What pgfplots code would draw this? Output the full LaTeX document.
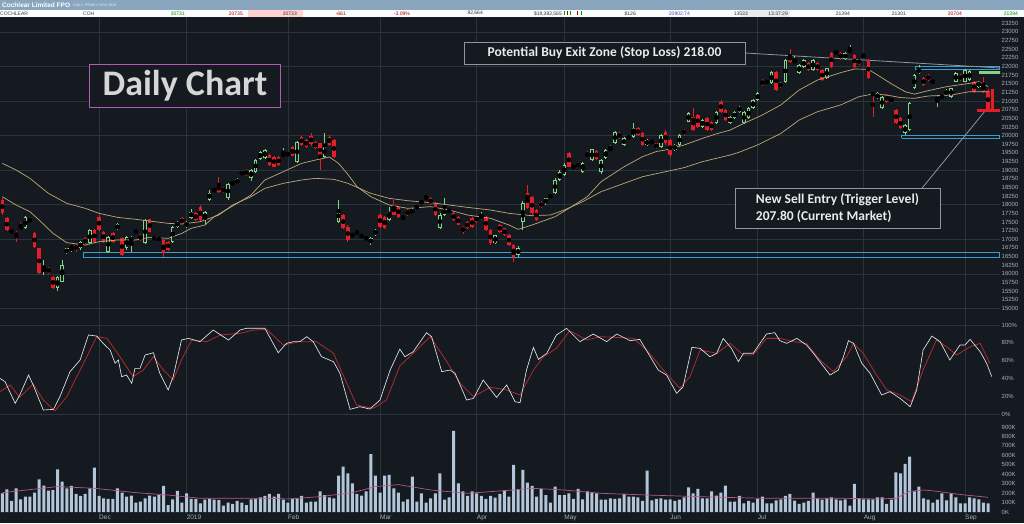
\documentclass[border=0pt]{standalone}
\usepackage{pgfplots}
\pgfplotsset{compat=1.18}
\usepackage{pgfplotstable}
\usepackage{fontspec}
\setmainfont{Liberation Sans}
\newfontfamily\calib{Carlito}
\definecolor{bg}{HTML}{141A1F}
\definecolor{gridc}{HTML}{2A343C}
\definecolor{cgreen}{HTML}{82D482}
\definecolor{cred}{HTML}{E41E26}
\definecolor{mac}{HTML}{BFA878}
\definecolor{stw}{HTML}{E2E8EC}
\definecolor{str}{HTML}{B02A2C}
\definecolor{volc}{HTML}{B3C5D8}
\definecolor{vma}{HTML}{B4568E}
\definecolor{boxblue}{HTML}{3A9ED6}
\definecolor{labc}{HTML}{A7B0B8}
\definecolor{hdr}{HTML}{8AA6BE}
\definecolor{boxgray}{HTML}{8E979E}
\definecolor{dcpurple}{HTML}{B25AB4}

\pgfplotstableread{
i o h l c
5 17316 17660 17290 17635
9 16100 16400 15966 16130
12 15580 15930 15500 15917
13 15773 16400 15750 16255
14 16593 16760 16570 16737
15 16737 16805 16641 16770
17 16737 16960 16700 16930
19 16882 17290 16860 17268
23 16641 17100 16600 17075
25 17287 17460 17260 17432
27 16737 17100 16700 17075
28 16950 17100 16641 17040
31 16882 17580 16860 17557
37 16930 17390 16900 17364
38 17364 17530 17340 17509
40 17345 17530 17320 17509
41 17605 17866 17580 17798
44 17557 17820 17412 17798
45 18136 18420 18100 18348
46 18400 18480 18370 18440
49 18184 18640 18150 18600
50 18570 18700 18550 18666
51 18618 18760 18600 18734
52 18890 18960 18870 18940
54 18763 19040 18700 19004
55 18956 19320 18930 19293
56 19313 19560 19290 19535
57 19342 19610 19320 19583
61 19420 19640 19370 19450
62 19438 19520 19410 19486
64 19245 19850 19220 19824
70 19390 20065 19360 19679
73 17509 18136 17480 17846
77 17180 17260 17130 17219
80 16881 17060 16833 17026
81 17123 17300 17100 17267
84 17557 17942 17530 17798
87 17600 17680 17560 17653
89 17750 17900 17720 17866
90 17895 17990 17870 17972
91 18050 18120 18030 18090
92 18184 18260 18160 18232
95 17316 17750 17290 17702
96 17702 18184 17680 17895
104 17620 17800 17560 17660
107 16881 17130 16850 17123
112 16544 16800 16496 16737
113 17509 18100 17267 18058
118 18039 18200 18000 18184
119 18203 18310 18180 18280
120 18329 18760 18300 18715
121 18715 19000 18690 18956
122 18859 19200 18830 19149
126 18956 19240 18930 19216
128 19293 19620 19260 19600
130 18956 19330 18900 19293
131 19342 19620 19320 19583
132 19583 19730 19560 19631
133 19776 20140 19750 20113
135 19727 19960 19700 19920
136 19920 20000 19880 19969
137 19969 20350 19940 20210
140 19727 19900 19700 19872
141 19800 19880 19760 19830
143 19679 20050 19650 20017
146 19583 19760 19550 19727
147 19727 20040 19700 20017
149 20403 20680 20380 20644
152 20258 20480 20230 20451
155 20355 20720 20330 20692
158 20355 20580 20330 20548
159 20499 20720 20470 20692
160 20692 20870 20660 20837
161 20355 20720 20330 20692
162 20499 20820 20470 20789
163 20789 21060 20760 21030
164 21030 21250 21000 21223
167 21512 21880 21480 21850
169 21416 21540 21380 21512
170 21560 22220 21530 22187
172 22110 22290 22080 22187
173 21801 22070 21770 22042
174 21994 22210 21960 22187
176 21898 22210 21870 22187
179 21657 21970 21630 21946
181 22380 22480 22350 22430
183 22207 22420 22180 22400
184 22430 22620 22400 22480
187 22290 22360 22260 22330
190 21078 21250 21050 21223
191 20789 21150 20760 21126
193 20981 21100 20950 21078
196 20065 20330 20017 20306
197 20162 20960 20140 20933
198 21367 21780 21340 21753
199 21801 22042 21780 21946
202 21512 21630 21490 21608
203 21050 21175 20836 21078
205 21175 21340 21150 21319
206 21126 21390 21100 21367
207 21560 21830 21540 21801
209 21560 21920 21540 21898
210 21600 21900 21580 21870
212 21416 21580 21390 21560
}\greendata

\pgfplotstableread{
i o h l c
0 18136 18200 17700 17750
1 17606 17650 17230 17268
2 17268 17300 17150 17171
3 17220 17250 16930 17075
4 17384 17509 17268 17287
6 17577 17620 17480 17509
7 17171 17200 16760 16786
8 16737 16760 15990 16014
10 16159 16200 16000 16033
11 15917 15950 15560 15580
16 16834 16860 16641 16700
18 17027 17060 16850 16882
20 17268 17300 16900 16930
21 17654 17702 17240 17268
22 17220 17250 16900 16930
24 17171 17200 16900 16930
26 17027 17060 16520 16544
29 17268 17300 17150 17171
30 17123 17150 16950 16979
32 17577 17600 17200 17220
33 17075 17100 16950 16979
34 17030 17060 16960 16990
35 16979 17000 16496 16593
36 16930 16960 16660 16689
39 17605 17640 17430 17460
42 17750 17780 17530 17557
43 17923 17990 17530 17557
47 18570 18790 18350 18377
48 18473 18500 18350 18377
53 19004 19030 18830 18859
58 19438 19470 19120 19149
59 19390 19420 19080 19100
60 19390 19420 19120 19149
63 19660 19700 19400 19410
65 19969 20000 19700 19727
66 19872 19900 19650 19679
67 19990 20065 19700 19750
68 19824 19850 19600 19631
69 19776 19800 19004 19390
71 19969 20030 19700 19727
72 19872 19900 19350 19390
74 17702 17730 17300 17316
75 17364 17400 16930 16978
76 17150 17180 17060 17100
78 17123 17150 17030 17056
79 17074 17100 16950 16978
82 17702 17750 17340 17364
83 17653 17680 17290 17316
85 17990 18136 17700 17702
86 17942 17970 17620 17653
88 17846 17870 17680 17702
93 18184 18220 17990 18039
94 18039 18070 17680 17702
97 17846 17880 17770 17798
98 17750 17780 17530 17557
99 17653 17680 17400 17412
100 17364 17390 17150 17219
101 17509 17530 17290 17316
102 17605 17630 17340 17364
103 17653 17680 17480 17509
105 17653 17680 17250 17267
106 17267 17290 16830 16881
108 17412 17440 17190 17219
109 17316 17340 17100 17123
110 17123 17150 16800 16833
111 16833 16860 16350 16496
114 18329 18570 17880 17895
115 18232 18260 17700 17750
116 17846 17870 17530 17557
117 18088 18110 17900 17923
123 19486 19530 19080 19100
124 19149 19180 19020 19050
125 19197 19230 19080 19100
127 19486 19540 19370 19390
129 19560 19590 19300 19313
134 20084 20110 19900 19920
138 20210 20240 20000 20017
139 20065 20090 19700 19727
142 19776 19800 19600 19631
144 20113 20150 19740 19776
145 19872 19900 19380 19438
148 20161 20190 20000 20050
150 20548 20789 20130 20162
151 20596 20630 20230 20258
153 20499 20530 20130 20162
154 20403 20430 20130 20162
156 20981 21030 20660 20692
157 20740 20770 20420 20451
165 21608 21640 21430 21463
166 21608 21640 21480 21512
168 21850 21880 21290 21319
171 22332 22500 22100 22139
175 22091 22120 21870 21898
177 22091 22120 21870 21898
178 21898 21930 21580 21608
180 22400 22430 21960 21994
182 22380 22410 22200 22236
185 22332 22360 21960 21994
186 22200 22230 22050 22080
188 22187 22220 21630 21660
189 21223 21250 20548 21175
192 21175 21200 20950 20981
194 20740 20770 20330 20354
195 20499 20530 20180 20210
200 21657 21690 21440 21464
201 21753 21780 21580 21608
204 21175 21200 21050 21078
208 21753 21780 21580 21608
211 21560 21590 21240 21271
213 21464 21700 21240 21271
214 21300 21340 20740 20780
}\reddata

\pgfplotstableread[row sep=\\]{
v\\198\\240\\117\\251\\135\\163\\163\\205\\346\\279\\226\\233\\452\\322\\251\\276\\191\\170\\191\\251\\470\\170\\145\\138\\138\\251\\205\\163\\173\\99\\110\\145\\173\\163\\180\\276\\74\\135\\223\\99\\198\\138\\138\\92\\131\\142\\131\\127\\67\\99\\85\\117\\99\\74\\135\\138\\156\\170\\191\\163\\191\\131\\99\\138\\145\\170\\99\\110\\110\\219\\180\\156\\145\\385\\480\\410\\304\\191\\173\\219\\614\\385\\205\\385\\392\\251\\205\\
110\\135\\374\\110\\198\\99\\145\\198\\410\\131\\156\\858\\304\\219\\170\\219\\198\\170\\138\\170\\152\\191\\226\\163\\498\\233\\445\\311\\276\\163\\244\\180\\99\\269\\180\\180\\198\\138\\244\\135\\219\\205\\198\\131\\131\\145\\138\\145\\191\\163\\163\\156\\117\\438\\124\\138\\145\\131\\135\\117\\131\\156\\262\\198\\244\\145\\145\\219\\173\\205\\279\\110\\110\\170\\92\\117\\99\\138\\163\\92\\92\\
124\\135\\170\\191\\120\\85\\99\\117\\205\\145\\131\\145\\156\\135\\124\\135\\67\\297\\145\\135\\135\\135\\156\\156\\85\\131\\420\\410\\509\\586\\219\\269\\145\\131\\99\\131\\198\\124\\198\\156\\92\\92\\156\\145\\135\\99\\92\\
}\voldata

\pgfplotsset{
  panel/.style={scale only axis, width=1000pt, xmin=-0.5, xmax=216.6,
    axis line style={draw=none}, major tick length=0pt, tick style={draw=none},
    xtick={21,40,62,82,103,122,145,164,187,209},
    xmajorgrids, major grid style={draw=gridc, line width=0.6pt},
    ytick pos=right, yticklabel pos=right,
    yticklabel style={anchor=west, inner sep=0pt, xshift=1.5pt, font=\fontsize{6}{6}\selectfont, text=labc},
    /pgf/number format/assume math mode=true,
    /pgf/number format/fixed, /pgf/number format/1000 sep={},
    scaled y ticks=false},
  wick/.style={forget plot, only marks, mark=none, error bars/.cd, y dir=both, y explicit, error mark=none,
    error bar style={line width=0.7pt, draw=#1}},
  body/.style 2 args={forget plot, only marks, mark=none, error bars/.cd, y dir=both, y explicit, error mark=none,
    error bar style={line width=#2, draw=#1}},
}

\begin{document}
\begin{tikzpicture}
\useasboundingbox (0pt,0pt) rectangle (1024pt,523pt);
\fill[bg] (0pt,0pt) rectangle (1024pt,523pt);

% ---------- price panel ----------
\begin{axis}[panel, xticklabel=\empty, at={(0pt,205pt)}, anchor=south west, height=301pt,
  ymin=14721, ymax=23432,
  ytick={15000,15250,15500,15750,16000,16250,16500,16750,17000,17250,17500,17750,18000,18250,18500,18750,19000,19250,19500,19750,20000,20250,20500,20750,21000,21250,21500,21750,22000,22250,22500,22750,23000,23250},
  extra y ticks={15000,16000,17000,18000,19000,20000,21000,22000,23000},
  extra y tick labels={}, extra y tick style={grid=major}]
\addplot[boxblue, line width=1pt] coordinates {(17.7,16466) (216.4,16466) (216.4,16610) (17.7,16610) (17.7,16466)};
\addplot[boxblue, line width=1pt] coordinates {(198.2,21927) (216.4,21927) (216.4,21994) (198.2,21994) (198.2,21927)};
\addplot[boxblue, line width=1pt] coordinates {(195.3,19922) (216.4,19922) (216.4,19997) (195.3,19997) (195.3,19922)};
\addplot[boxgray, line width=0.8pt] coordinates {(161.3,22390) (216.6,21956)};
\addplot[boxgray, line width=0.8pt] coordinates {(199.7,18483) (213.4,20720)};
% wicks
\addplot[wick=cgreen] table[x=i, y expr={(\thisrow{h}+\thisrow{l})/2}, y error expr={(\thisrow{h}-\thisrow{l})/2}] {\greendata};
\addplot[wick=cred] table[x=i, y expr={(\thisrow{h}+\thisrow{l})/2}, y error expr={(\thisrow{h}-\thisrow{l})/2}] {\reddata};
% bodies
\addplot[body={cgreen}{3.5pt}] table[x=i, y expr={(\thisrow{o}+\thisrow{c})/2}, y error expr={abs(\thisrow{c}-\thisrow{o})/2}] {\greendata};
\addplot[body={bg}{1.7pt}] table[x=i, y expr={(\thisrow{o}+\thisrow{c})/2}, y error expr={max(abs(\thisrow{c}-\thisrow{o})/2-25,0)}] {\greendata};
\addplot[body={cred}{3.5pt}] table[x=i, y expr={(\thisrow{o}+\thisrow{c})/2}, y error expr={abs(\thisrow{c}-\thisrow{o})/2}] {\reddata};
% moving averages
\addplot[mac, line width=0.7pt] coordinates {(0,18232) (3,17991) (6,17798) (8,17557) (11,17171) (14,16901) (18,16833) (21,16930) (25,16978) (29,16978) (32,17056) (36,17026) (39,17171) (41,17316) (44,17412) (46,17653) (50,17962) (54,18280) (57,18715) (61,18956) (65,19197) (68,19293) (71,19380) (73,19197) (75,18880) (77,18522) (80,18232) (84,17991) (88,17895) (93,17943) (97,17846) (101,17702) (106,17605) (110,17412) (112,17287) (115,17412) (117,17509) (120,17653) (123,17895) (127,18232) (130,18666) (135,19100) (139,19390) (142,19540) (144,19583) (148,19727) (152,19920) (155,20050) (158,20160) (161,20354) (165,20596) (169,20886) (173,21320) (177,21609) (182,21821) (185,21927) (188,21918) (190,21754) (193,21500) (196,21271) (198,21200) (201,21300) (205,21416) (210,21512) (212,21560) (214,21420)};
\addplot[mac, line width=0.7pt] coordinates {(0,19197) (3,19004) (6,18763) (10,18329) (14,18039) (18,17895) (21,17750) (25,17634) (29,17576) (32,17528) (36,17460) (39,17441) (43,17509) (47,17700) (50,17991) (54,18232) (57,18473) (61,18618) (65,18715) (68,18763) (72,18734) (75,18620) (80,18329) (84,18184) (88,18116) (93,18059) (97,17991) (101,17923) (106,17846) (110,17750) (115,17682) (119,17702) (122,17846) (126,18088) (130,18377) (135,18618) (139,18811) (143,18927) (148,19072) (152,19245) (158,19438) (160,19520) (164,19730) (169,20060) (173,20451) (177,20692) (182,20886) (186,21127) (189,21204) (192,21175) (195,21100) (198,21078) (201,21146) (206,21175) (210,21271) (214,21271)};
% level marks
\addplot[cgreen, line width=3pt] coordinates {(212.1,21832) (217,21832)};
\addplot[cred, line width=3pt] coordinates {(214.9,21350) (214.9,20740)};
\addplot[cred, line width=3pt] coordinates {(211.6,20740) (216.6,20740)};
\end{axis}

% ---------- stochastic panel ----------
\begin{axis}[panel, xticklabel=\empty, at={(0pt,105pt)}, anchor=south west, height=100pt,
  ymin=-4.5, ymax=107.9, ytick={0,20,40,60,80,100},
  yticklabel={\pgfmathprintnumber{\tick}\%},
  extra y ticks={0,100}, extra y tick labels={}, extra y tick style={grid=major}]
\addplot[str, line width=0.8pt] coordinates {(-0.5,25.1) (1.7,32.6) (3.8,18.7) (6.7,33.7) (8.9,15.7) (11.4,3.4) (14,19.5) (16.9,49.4) (20.5,86.9) (22.7,85) (24.8,70) (28.4,42) (30.6,49.4) (32.8,64.4) (35,49.4) (37.1,38.2) (38.9,60.7) (41.1,83.1) (44.4,81.3) (47.3,88.8) (51.6,90.6) (54.5,94.4) (57.4,95.1) (61,77.5) (64.6,81.3) (68.2,81.3) (71.9,68.2) (74.8,34.5) (76.9,10.1) (80.5,6.4) (83.4,15.7) (86.3,54) (89.2,68.2) (92.9,86.9) (96.5,58.8) (99.4,34.5) (102.3,19.5) (105.9,30) (109.5,27) (112.4,21.4) (115.3,49.4) (117.5,64.4) (120.3,73.8) (123.2,93.6) (126.9,83.1) (129.8,86.9) (133.4,86.1) (137,85) (139.9,71.9) (143.5,49.4) (147.1,28.9) (149.3,42) (151.5,71.9) (155.1,68.2) (158,79.4) (160.9,66.3) (163,66.3) (165.9,85) (168.8,85) (171.7,81.3) (174.6,79.4) (177.5,60.7) (180.4,47.6) (183.3,64.4) (184.8,79.4) (186.9,68.2) (189.8,43.8) (192,27) (194.9,21.4) (197.4,13.9) (199.9,49.4) (202.8,83.1) (205,75.6) (207.2,66.3) (210.1,75.6) (212.3,79.4) (214.4,56.9)};
\addplot[stw, line width=0.65pt] coordinates {(-0.5,40) (0.6,36.3) (2.8,12) (3.8,21.4) (5.7,43.8) (6.7,32.6) (8.9,4.5) (11.1,5.2) (12.5,19.5) (14.7,47.6) (16.9,60.7) (18.7,88.8) (20.5,87.6) (21.9,79.4) (23.4,71.9) (24.5,56.9) (25.2,60.7) (25.9,42) (27,43.8) (28.1,34.5) (28.8,51.3) (29.9,51.3) (31,66.3) (32.8,68.9) (34.2,45.7) (36,27) (37.1,42) (38.9,83.1) (40.4,85) (42.9,81.3) (45.8,94.4) (49.1,83.1) (51.6,94.4) (53,96.3) (57,96.3) (59.9,68.9) (61.7,79.4) (63.2,81.3) (64.6,81.3) (66.1,86.9) (67.5,81.3) (69.3,64.4) (71.9,58.8) (73.3,45.7) (75.5,5.2) (77.6,8.2) (79.8,5.6) (82,15.7) (84.2,49.4) (86.3,72.9) (87.4,64.4) (89.2,70) (92.1,91.4) (93.2,86.9) (95.4,47.6) (97.2,49.4) (98.3,45.7) (100.8,15.7) (102.3,17.6) (104.4,38.2) (107.3,18.7) (109.5,32.6) (111.3,13.9) (112.4,12.7) (113.8,49.4) (115.3,74.9) (116.4,61.4) (118.2,68.2) (120.3,88.8) (122.5,96.3) (125.4,81.3) (128.3,89.9) (131.2,81.3) (133.4,89.9) (136.3,82.4) (138.4,83.9) (142.4,49.4) (144.2,43.8) (146.4,23.2) (147.8,30.7) (149.7,74.9) (151.5,73.8) (153.6,64.4) (155.1,68.2) (156.5,85) (158.3,73.8) (159.8,58.8) (160.9,68.2) (163,68.2) (165.9,89.9) (167.7,91.4) (168.8,82.4) (170.3,79.4) (172.5,85) (174.6,77.5) (176.1,68.2) (179.7,43.8) (181.5,49.4) (182.6,64.4) (183.7,82.4) (184.8,79.4) (186.6,56.9) (188.4,45.7) (190.9,21.4) (192.7,25.1) (194.9,17.6) (197.1,8.2) (198.5,27) (199.9,71.9) (201.8,87.6) (203.6,81.3) (205.7,60.7) (207.9,77.5) (209,77.5) (210.1,83.9) (212.3,70) (213.7,56.9) (214.8,42)};
\end{axis}

% ---------- volume panel ----------
\begin{axis}[panel, at={(0pt,9pt)}, anchor=south west, height=96pt,
  ymin=-21, ymax=995, ytick={0,100,200,300,400,500,600,700,800,900},
  yticklabel={\pgfmathprintnumber{\tick}K},
  xticklabels={Dec,2019,Feb,Mar,Apr,May,Jun,Jul,Aug,Sep},
  xticklabel style={anchor=north west, inner sep=0pt, yshift=-1pt, font=\fontsize{6.5}{6.5}\selectfont, text=labc}]
\addplot[ybar, bar width=3pt, fill=volc, draw=none] table[x expr=\coordindex, y=v] {\voldata};
\addplot[vma, line width=0.7pt] coordinates {(0,205) (12,269) (20,251) (29,205) (36,180) (43,145) (58,145) (62,138) (69,163) (76,205) (81,269) (86,290) (93,233) (101,198) (110,230) (115,251) (122,233) (130,198) (140,180) (151,163) (165,145) (172,145) (183,145) (190,138) (194,145) (197,219) (200,233) (203,219) (206,198) (209,180) (214,156)};
\end{axis}

% ---------- header ----------
\fill[hdr] (0pt,513pt) rectangle (1024pt,523pt);
\fill[white!96!hdr] (0pt,506pt) rectangle (1024pt,513pt);
\fill[red!18] (248pt,506pt) rectangle (303pt,513pt);
\fill[black!8] (740pt,506pt) rectangle (790pt,513pt);
\node[anchor=west, inner sep=0pt, font=\fontsize{6.5}{6.5}\selectfont\bfseries, text=white] at (2pt,518pt) {Cochlear Limited FPO};
\node[anchor=west, inner sep=0pt, font=\fontsize{3.6}{3.6}\selectfont, text=white!80!hdr] at (73pt,517.6pt) {DAILY, FROM 2 NOV 2018};
\begin{scope}[every node/.style={inner sep=0pt, font=\fontsize{5}{5}\selectfont}]
\node[anchor=west, text=black!75] at (0pt,509.5pt) {COCHLEAR};
\node[anchor=west, text=black!75] at (83pt,509.5pt) {COH};
\node[anchor=east, text=green!55!black] at (185pt,509.5pt) {20731};
\node[anchor=east, text=red!70!black] at (243pt,509.5pt) {20735};
\node[anchor=east, text=black!80] at (297pt,509.5pt) {20733};
\node[anchor=east, text=red!70!black] at (346pt,509.5pt) {-661};
\node[anchor=east, text=red!70!black] at (410pt,509.5pt) {-3.09\%};
\node[anchor=east, text=black!80] at (483pt,509.5pt) {92,664};
\node[anchor=east, text=black!80] at (562pt,509.5pt) {\$19,382,565};
\node[anchor=east, text=black!80] at (636pt,509.5pt) {\$126};
\node[anchor=east, text=blue!40!gray] at (690pt,509.5pt) {20902.74};
\node[anchor=east, text=black!80] at (748pt,509.5pt) {13533};
\node[anchor=east, text=black!80] at (788pt,509.5pt) {13:37:29};
\node[anchor=east, text=black!80] at (850pt,509.5pt) {21394};
\node[anchor=east, text=black!80] at (906pt,509.5pt) {21301};
\node[anchor=east, text=red!70!black] at (962pt,509.5pt) {20704};
\node[anchor=east, text=green!55!black] at (1018pt,509.5pt) {21394};
\end{scope}
\fill[green!60!black] (564pt,507.5pt) rectangle (565pt,511.5pt);
\fill[red!70!black] (567pt,507.5pt) rectangle (568pt,511.5pt);
\fill[green!60!black] (570pt,507.5pt) rectangle (571pt,511.5pt);
\fill[red!70!black] (577pt,507.5pt) rectangle (578pt,511.5pt);
\fill[green!60!black] (581pt,507.5pt) rectangle (582pt,511.5pt);

% ---------- annotations ----------
\node[draw=dcpurple, line width=1.3pt, fill=bg, minimum width=191pt, minimum height=43pt, inner sep=0pt,
  text=white!84!black, font=\calib\bfseries\fontsize{36}{36}\selectfont] at (185pt,437pt) {Daily Chart};
\node[draw=boxgray, line width=0.9pt, fill=bg, minimum width=281pt, minimum height=22pt, inner sep=0pt,
  text=white!92!black, font=\calib\bfseries\fontsize{13.5}{13.5}\selectfont] at (604.5pt,470pt) {Potential Buy Exit Zone (Stop Loss) 218.00};
\node[draw=boxgray, line width=0.9pt, fill=bg, minimum width=205pt, minimum height=40pt, inner sep=3pt, align=left,
  text=white!92!black, font=\calib\bfseries\fontsize{13.5}{17.5}\selectfont] at (837.5pt,315pt) {New Sell Entry (Trigger Level)\\207.80 (Current Market)};
\end{tikzpicture}
\end{document}
